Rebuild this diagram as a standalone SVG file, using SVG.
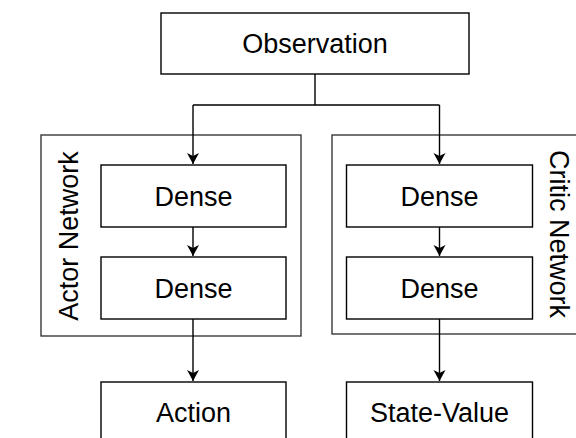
<svg xmlns="http://www.w3.org/2000/svg" width="576" height="438" viewBox="0 0 576 438">
  <style>
    .box { fill: #ffffff; stroke: #000000; stroke-width: 1.4; }
    .group { fill: #ffffff; stroke: #2a2a2a; stroke-width: 1.3; }
    .label { font-family: "Liberation Sans", Arial, Helvetica, sans-serif; font-size: 27px; fill: #000000; text-anchor: middle; }
    .wire { fill: none; stroke: #000000; stroke-width: 1.4; }
  </style>
  <defs>
    <marker id="arrow" markerUnits="userSpaceOnUse" markerWidth="14" markerHeight="14" refX="11" refY="6" orient="auto">
      <path d="M0,0 L11,6 L0,12 L3,6 Z" fill="#000000"/>
    </marker>
  </defs>
  <rect width="576" height="438" fill="#ffffff"/>

  <!-- network containers -->
  <g id="actor-network">
    <rect class="group" x="41" y="135" width="260" height="201"/>
    <text class="label" transform="translate(78,236) rotate(-90)">Actor Network</text>
  </g>
  <g id="critic-network">
    <rect class="group" x="332" y="135" width="260" height="199"/>
    <text class="label" transform="translate(550,234) rotate(90)">Critic Network</text>
  </g>

  <!-- connectors -->
  <g id="connectors">
    <path class="wire" d="M315,74 V105 M193,105 H439.5"/>
    <path class="wire" d="M193,105 V164" marker-end="url(#arrow)"/>
    <path class="wire" d="M439.5,105 V164" marker-end="url(#arrow)"/>
    <path class="wire" d="M193,227 V256" marker-end="url(#arrow)"/>
    <path class="wire" d="M439.5,227 V256" marker-end="url(#arrow)"/>
    <path class="wire" d="M193,319 V381" marker-end="url(#arrow)"/>
    <path class="wire" d="M439.5,319 V381" marker-end="url(#arrow)"/>
  </g>

  <!-- nodes -->
  <g id="observation">
    <rect class="box" x="161" y="13" width="308" height="61"/>
    <text class="label" x="315" y="53">Observation</text>
  </g>
  <g id="actor-dense-1">
    <rect class="box" x="101" y="165" width="185" height="62"/>
    <text class="label" x="193.5" y="205.5">Dense</text>
  </g>
  <g id="actor-dense-2">
    <rect class="box" x="101" y="257" width="185" height="62"/>
    <text class="label" x="193.5" y="297.5">Dense</text>
  </g>
  <g id="critic-dense-1">
    <rect class="box" x="346.5" y="165" width="186" height="62"/>
    <text class="label" x="439.5" y="205.5">Dense</text>
  </g>
  <g id="critic-dense-2">
    <rect class="box" x="346.5" y="257" width="186" height="62"/>
    <text class="label" x="439.5" y="297.5">Dense</text>
  </g>
  <g id="action">
    <rect class="box" x="101" y="382" width="185" height="61"/>
    <text class="label" x="193.5" y="422">Action</text>
  </g>
  <g id="state-value">
    <rect class="box" x="346.5" y="382" width="186" height="61"/>
    <text class="label" x="439.5" y="422">State-Value</text>
  </g>
</svg>
